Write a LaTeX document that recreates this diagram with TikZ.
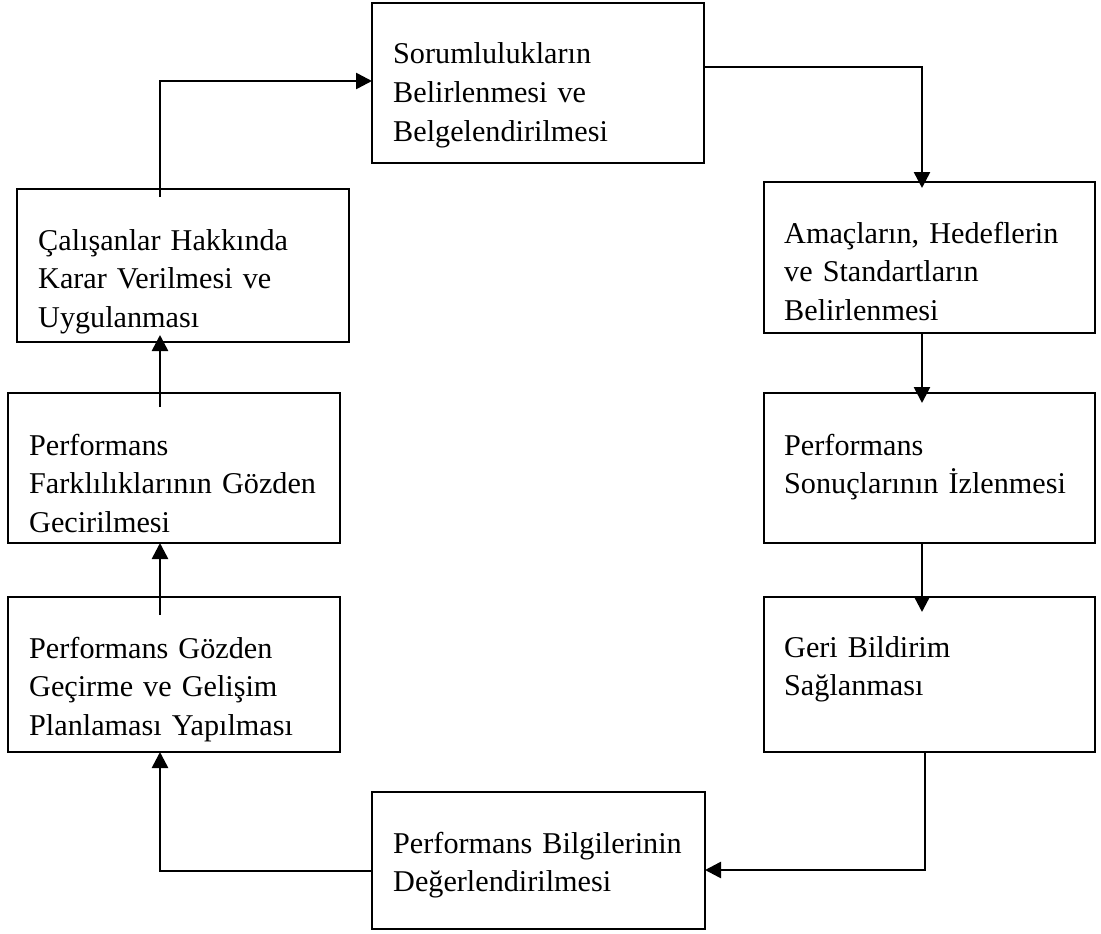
\documentclass[tikz,border=0pt]{standalone}
\usepackage{fontspec}
\setmainfont{Liberation Serif}
\usetikzlibrary{arrows.meta}
\begin{document}
\begin{tikzpicture}[x=1pt,y=-1pt,
  box/.style={draw=black, line width=1.7pt, inner sep=0pt, outer sep=0pt, anchor=north west, fill=none},
  txt/.style={anchor=base west, inner sep=0pt, text width=330pt, align=left, font={\fontsize{30.2}{38.7}\selectfont}},
  arr/.style={draw=black, line width=2.6pt, -{Triangle[length=16pt,width=16pt]}}]
\useasboundingbox (0,0) rectangle (1101,934);
\fill[white] (0,0) rectangle (1101,934);
% boxes
\node[box, minimum width=332pt, minimum height=160pt] (b1) at (372,3) {};
\node[box, minimum width=331pt, minimum height=151pt] (b2) at (764,182) {};
\node[box, minimum width=331pt, minimum height=150pt] (b3) at (764,393) {};
\node[box, minimum width=331pt, minimum height=155pt] (b4) at (764,597) {};
\node[box, minimum width=333pt, minimum height=137pt] (b5) at (372,792) {};
\node[box, minimum width=332pt, minimum height=155pt] (b6) at (8,597) {};
\node[box, minimum width=332pt, minimum height=150pt] (b7) at (8,393) {};
\node[box, minimum width=332pt, minimum height=153pt] (b8) at (17,189) {};
% texts
\node[txt] (t1) at (393,64) {Sorumlulukların\\Belirlenmesi ve\\Belgelendirilmesi};
\node[txt] (t2) at (784,243) {Amaçların, Hedeflerin\\ve Standartların\\Belirlenmesi};
\node[txt] (t3) at (784,455) {Performans\\Sonuçlarının İzlenmesi};
\node[txt] (t4) at (784,657) {Geri Bildirim\\Sağlanması};
\node[txt] (t5) at (393,853) {Performans Bilgilerinin\\Değerlendirilmesi};
\node[txt] (t6) at (29,658) {Performans Gözden\\Geçirme ve Gelişim\\Planlaması Yapılması};
\node[txt] (t7) at (29,455) {Performans\\Farklılıklarının Gözden\\Gecirilmesi};
\node[txt] (t8) at (38,250) {Çalışanlar Hakkında\\Karar Verilmesi ve\\Uygulanması};
% helper coordinates
\coordinate (xl) at (160,0);
\coordinate (xr) at (922,0);
\coordinate (xr2) at (925,0);
\coordinate (ya) at (0,81);
\coordinate (yb) at (0,67);
\coordinate (yc) at (0,870);
\coordinate (yd) at (0,871);
% connectors
\draw[arr, shorten <=-8pt] (b8.north -| xl) |- (b1.west |- ya);
\draw[arr, shorten >=-6pt] (b1.east |- yb) -| (b2.north -| xr);
\draw[arr, shorten >=-10pt] (b2.south -| xr) -- (b3.north -| xr);
\draw[arr, shorten >=-15pt] (b3.south -| xr) -- (b4.north -| xr);
\draw[arr] (b4.south -| xr2) |- (b5.east |- yc);
\draw[arr] (b5.west |- yd) -| (b6.south -| xl);
\draw[arr, shorten <=-18pt] (b6.north -| xl) -- (b7.south -| xl);
\draw[arr, shorten <=-14pt, shorten >=-7pt] (b7.north -| xl) -- (b8.south -| xl);
\end{tikzpicture}
\end{document}
